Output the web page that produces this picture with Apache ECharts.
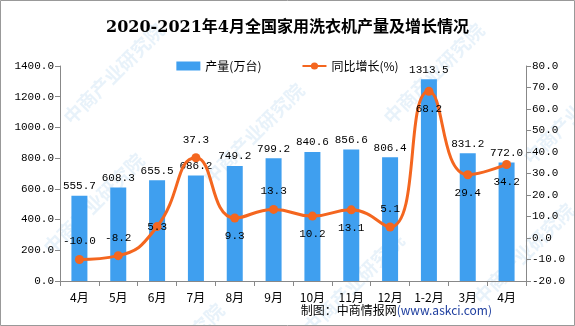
<!DOCTYPE html>
<html><head><meta charset="utf-8">
<script src="https://cdn.jsdelivr.net/npm/echarts@6/dist/echarts.min.js"></script>
<style>html,body{margin:0;padding:0;background:#fff}#c{width:575px;height:326px}</style>
</head><body><div id="c"></div>
<script>
const categories = ['4月','5月','6月','7月','8月','9月','10月','11月','12月','1-2月','3月','4月'];
const production = [555.7,608.3,655.5,686.2,749.2,799.2,840.6,856.6,806.4,1313.5,831.2,772.0];
const growth = [-10.0,-8.2,5.3,37.3,9.3,13.3,10.2,13.1,5.1,68.2,29.4,34.2];
const growthLabelPos = ['top','top','inside','top','bottom','top','bottom','bottom','top','bottom','bottom','bottom'];
const leftTicks = {min:0,max:1400,interval:200};
const rightTicks = {min:-20,max:80,interval:10};

const numFont = '"Liberation Mono", "DejaVu Sans Mono", monospace';
const chart = echarts.init(document.getElementById('c'));
const wm = [];
[[40,150],[200,80],[380,20],[520,60],[120,300],[300,230],[470,200],[60,20]].forEach(p=>{
  wm.push({type:'text',left:p[0],top:p[1],rotation:Math.PI/4,z:-1,silent:true,
    style:{text:'中商产业研究院',fill:'rgba(180,212,240,0.3)',font:'bold 19px "Noto Sans CJK SC"'}});
});
chart.setOption({
  animation:false,
  backgroundColor:'#fff',
  title:{text:'2020-2021年4月全国家用洗衣机产量及增长情况',left:'center',top:15,
    textStyle:{fontSize:16,fontWeight:'bold',color:'#000',fontFamily:'"DejaVu Serif","Noto Sans CJK SC"'}},
  legend:{top:55,left:'center',itemGap:40,itemWidth:24,itemHeight:9,
    textStyle:{fontSize:12,color:'#000',fontFamily:'"Noto Sans CJK SC"'},
    data:[{name:'产量(万台)',icon:'rect'},{name:'同比增长(%)'}]},
  grid:{left:60,right:49,top:66,bottom:45},
  graphic:[
    {type:'rect',shape:{x:0.5,y:0.5,width:574,height:325},style:{fill:'none',stroke:'#999',lineWidth:1},silent:true},
    ...wm,
    {type:'text',right:83,top:304,style:{rich:{a:{fill:'#000',font:'12px "Noto Sans CJK SC"'},b:{fill:'#1f3f9f',font:'12px "Noto Sans CJK SC"'}},text:'{a|制图：中商情报网}{b|(www.askci.com)}'}}
  ],
  xAxis:{type:'category',data:categories,
    axisLine:{lineStyle:{color:'#888'}},axisTick:{show:true,length:5,lineStyle:{color:'#888'}},
    axisLabel:{color:'#000',fontSize:12,margin:10,fontFamily:'"Noto Sans CJK SC"'}},
  yAxis:[
    {type:'value',min:leftTicks.min,max:leftTicks.max,interval:leftTicks.interval,
      axisLine:{show:true,lineStyle:{color:'#888'}},axisTick:{show:true,length:5,lineStyle:{color:'#888'}},
      splitLine:{show:false},
      axisLabel:{color:'#000',fontSize:11,fontFamily:numFont,margin:6,formatter:v=>v.toFixed(1)}},
    {type:'value',min:rightTicks.min,max:rightTicks.max,interval:rightTicks.interval,
      axisLine:{show:true,lineStyle:{color:'#888'}},axisTick:{show:true,length:5,lineStyle:{color:'#888'}},
      splitLine:{show:false},
      axisLabel:{color:'#000',fontSize:11,fontFamily:numFont,margin:6,formatter:v=>v.toFixed(1)}}
  ],
  series:[
    {name:'产量(万台)',type:'bar',data:production,barWidth:16,yAxisIndex:0,
      itemStyle:{color:'#3f9fef'},
      label:{show:true,position:'top',distance:4,color:'#000',fontSize:11,fontFamily:numFont,formatter:p=>p.value.toFixed(1)}},
    {name:'同比增长(%)',type:'line',yAxisIndex:1,smooth:0.5,symbol:'circle',symbolSize:9,
      lineStyle:{color:'#f4661f',width:3},itemStyle:{color:'#f4661f'},
      data:growth.map((v,i)=>({value:v,label:{position:growthLabelPos[i]}})),
      label:{show:true,distance:8,color:'#000',fontSize:11,fontFamily:numFont,formatter:p=>p.value.toFixed(1)}}
  ]
});
</script></body></html>
